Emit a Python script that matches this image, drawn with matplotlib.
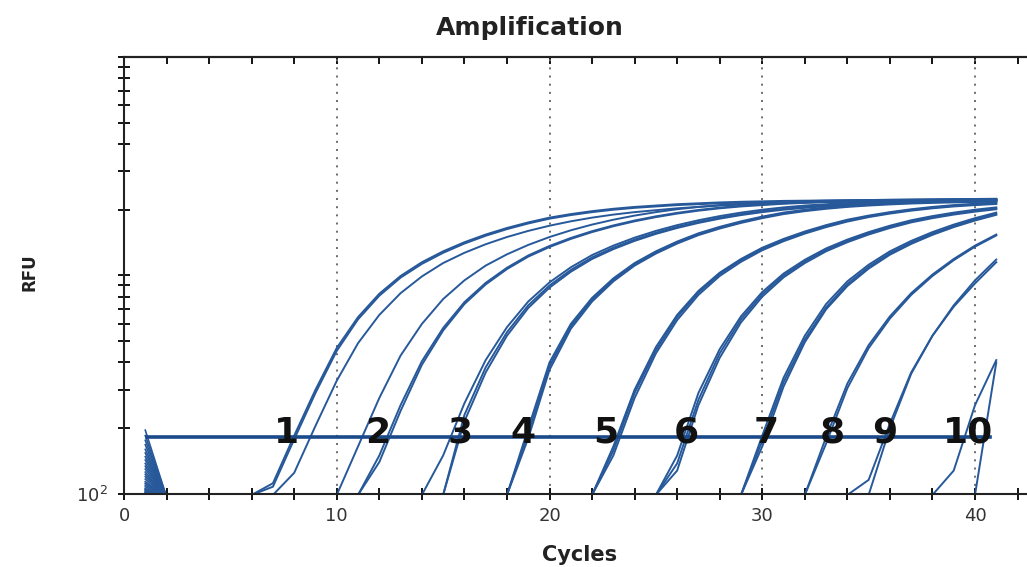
import numpy as np
import matplotlib.pyplot as plt
from matplotlib.ticker import FixedLocator, LogLocator, NullFormatter

# each curve: (first visible cycle, RFU values from that cycle up to cycle 41)
group_1 = [
    (6, [99, 112, 185, 300, 466, 645, 825, 995, 1150, 1290, 1420, 1540, 1650, 1750, 1840,
         1910, 1970, 2020, 2060, 2090, 2120, 2140, 2160, 2175, 2185, 2195, 2200, 2205, 2210,
         2215, 2220, 2225, 2230, 2235, 2240, 2240]),
    (6, [99, 108, 178, 290, 452, 630, 808, 978, 1130, 1270, 1400, 1520, 1630, 1730, 1820,
         1890, 1950, 2000, 2040, 2070, 2100, 2120, 2140, 2155, 2165, 2175, 2180, 2185, 2190,
         2195, 2200, 2205, 2210, 2215, 2220, 2220]),
    (7, [99, 125, 205, 330, 490, 660, 830, 990, 1140, 1270, 1390, 1500, 1600, 1690, 1770,
         1840, 1900, 1950, 1990, 2030, 2060, 2090, 2110, 2130, 2145, 2160, 2170, 2180, 2190,
         2195, 2200, 2205, 2210, 2215, 2220]),
]
group_2 = [
    (10, [99, 165, 275, 430, 600, 780, 950, 1110, 1250, 1380, 1500, 1610, 1710, 1800, 1880,
          1950, 2010, 2060, 2100, 2130, 2155, 2175, 2190, 2200, 2210, 2215, 2220, 2225, 2230,
          2235, 2240, 2245]),
    (11, [99, 140, 240, 390, 560, 740, 910, 1070, 1220, 1350, 1470, 1580, 1680, 1770, 1850,
          1920, 1980, 2030, 2070, 2100, 2130, 2150, 2170, 2180, 2190, 2200, 2205, 2210, 2215,
          2220, 2225]),
    (11, [99, 150, 255, 405, 575, 755, 925, 1085, 1235, 1365, 1485, 1595, 1695, 1785, 1865,
          1935, 1995, 2045, 2085, 2115, 2140, 2160, 2175, 2185, 2195, 2200, 2210, 2215, 2220,
          2225, 2230]),
]
group_3 = [
    (14, [99, 150, 260, 410, 580, 760, 930, 1090, 1240, 1370, 1490, 1600, 1700, 1790, 1870,
          1940, 2000, 2050, 2090, 2120, 2145, 2165, 2180, 2190, 2200, 2210, 2215, 2220]),
    (15, [99, 230, 380, 550, 730, 900, 1060, 1210, 1340, 1460, 1570, 1670, 1760, 1840, 1910,
          1970, 2020, 2060, 2095, 2120, 2140, 2160, 2175, 2185, 2195, 2200, 2205]),
    (15, [99, 215, 360, 530, 710, 880, 1040, 1190, 1320, 1440, 1550, 1650, 1740, 1820, 1890,
          1950, 2000, 2040, 2075, 2100, 2120, 2140, 2155, 2165, 2175, 2180, 2185]),
]
group_4 = [
    (18, [99, 200, 400, 600, 790, 970, 1140, 1290, 1430, 1560, 1670, 1770, 1860, 1940, 2000,
          2050, 2090, 2120, 2145, 2165, 2180, 2190, 2200, 2210]),
    (18, [99, 190, 385, 585, 775, 955, 1125, 1275, 1415, 1545, 1655, 1755, 1845, 1925, 1985,
          2035, 2075, 2105, 2130, 2150, 2165, 2175, 2185, 2195]),
    (18, [99, 180, 370, 570, 760, 940, 1110, 1260, 1400, 1530, 1640, 1740, 1830, 1910, 1970,
          2020, 2060, 2090, 2115, 2135, 2150, 2160, 2170, 2180]),
]
group_5 = [
    (22, [99, 165, 300, 470, 660, 850, 1030, 1190, 1340, 1470, 1590, 1700, 1800, 1880, 1950,
          2010, 2060, 2100, 2130, 2160]),
    (22, [99, 158, 290, 455, 645, 835, 1015, 1175, 1325, 1455, 1575, 1685, 1785, 1865, 1935,
          1995, 2045, 2085, 2115, 2140]),
    (22, [99, 150, 275, 440, 625, 815, 995, 1155, 1305, 1435, 1555, 1665, 1765, 1850, 1920,
          1980, 2030, 2070, 2100, 2125]),
]
group_6 = [
    (25, [99, 150, 290, 460, 650, 840, 1020, 1180, 1330, 1460, 1580, 1690, 1790, 1870, 1940,
          2000, 2050]),
    (25, [99, 138, 270, 440, 630, 820, 1000, 1160, 1310, 1440, 1560, 1670, 1770, 1850, 1920,
          1980, 2030]),
    (25, [99, 128, 255, 420, 610, 800, 980, 1140, 1290, 1420, 1540, 1650, 1750, 1830, 1900,
          1960, 2010]),
]
group_7 = [
    (29, [99, 185, 340, 530, 740, 940, 1120, 1290, 1440, 1580, 1710, 1830, 1940]),
    (29, [99, 175, 325, 510, 715, 915, 1095, 1265, 1415, 1555, 1685, 1805, 1915]),
    (29, [99, 165, 310, 495, 700, 895, 1075, 1245, 1395, 1535, 1665, 1785, 1895]),
]
group_8 = [
    (32, [99, 182, 320, 480, 650, 830, 1010, 1190, 1370, 1540]),
    (32, [99, 170, 305, 465, 635, 815, 995, 1175, 1355, 1525]),
]
group_9 = [
    (34, [99, 116, 210, 360, 530, 720, 920, 1150]),
    (35, [99, 200, 355, 530, 730, 950, 1183]),
]
group_10 = [
    (38, [99, 128, 255, 410]),
    (40, [99, 400]),
]
groups = [group_1, group_2, group_3, group_4, group_5,
          group_6, group_7, group_8, group_9, group_10]

# first two cycles (before baseline), one per curve
fan_cycle1 = [196, 185, 176, 168, 160, 154, 148, 143, 138, 134, 130, 126, 123, 120, 117,
              114, 112, 110, 108, 106, 105, 104, 103, 102, 101, 101, 100.5, 100]
fan_cycle2 = 97

threshold = 182
group_labels = ['1', '2', '3', '4', '5', '6', '7', '8', '9', '10']
label_x = [7.66, 11.94, 15.79, 18.75, 22.66, 26.42, 30.18, 33.28, 35.77, 39.67]

line_color = '#27599a'

fig = plt.figure(figsize=(10.27, 5.67), dpi=100)
ax = fig.add_axes([124 / 1027, 73 / 567, 43.5 * 21.275 / 1027, 437 / 567])

for xg in [10, 20, 30, 40]:
    ax.axvline(xg, color='#6b6b6b', linestyle=(0, (1, 3.2)), linewidth=1.4, zorder=1)

for v1 in fan_cycle1:
    ax.plot([1, 2], [v1, fan_cycle2], color=line_color, linewidth=1.2, zorder=2)

for group in groups:
    for start, vals in group:
        x = np.arange(start, start + len(vals))
        ax.plot(x, vals, color=line_color, linewidth=1.4, zorder=2,
                solid_joinstyle='round')

ax.plot([1.1, 40.7], [threshold, threshold], color='#1b4a8a', linewidth=2.6, zorder=3)

for lab, lx in zip(group_labels, label_x):
    ax.text(lx, 172, lab, ha='center', va='baseline', fontsize=26,
            fontweight='bold', color='#111111', zorder=4)

ax.set_xlim(0, 43.5)
ax.set_yscale('log')
ax.set_ylim(100, 10000)

ax.set_xticks([0, 10, 20, 30, 40])
ax.set_xticks(np.arange(0, 44, 2), minor=True)
ax.tick_params(axis='x', which='both', direction='inout', length=9, width=1.3,
               labelsize=13, labelcolor='#333333', pad=5)

ax.yaxis.set_major_locator(FixedLocator([100, 1000, 10000]))
ax.set_yticklabels(['$10^2$', '', ''])
ax.yaxis.set_minor_locator(LogLocator(base=10, subs=np.arange(2, 10)))
ax.yaxis.set_minor_formatter(NullFormatter())
ax.tick_params(axis='y', which='both', direction='inout', length=8, width=1.3,
               labelsize=13, labelcolor='#333333', pad=8)

for side in ['left', 'bottom', 'top']:
    ax.spines[side].set_linewidth(1.5)
    ax.spines[side].set_color('#222222')
ax.spines['right'].set_visible(False)

top = ax.secondary_xaxis('top')
top.set_xticks(np.arange(0, 44, 2))
top.tick_params(direction='in', length=5, width=1.3, labeltop=False)
top.spines['top'].set_linewidth(1.5)

fig.text(530 / 1027, 1 - 28 / 567, 'Amplification', ha='center', va='center',
         fontsize=18, fontweight='bold', color='#222222')
fig.text(580 / 1027, 1 - 555 / 567, 'Cycles', ha='center', va='center',
         fontsize=15, fontweight='bold', color='#222222')
fig.text(30 / 1027, 1 - 272 / 567, 'RFU', ha='center', va='center', rotation=90,
         fontsize=12, fontweight='bold', color='#222222')

fig.savefig('out.png', dpi=100)
